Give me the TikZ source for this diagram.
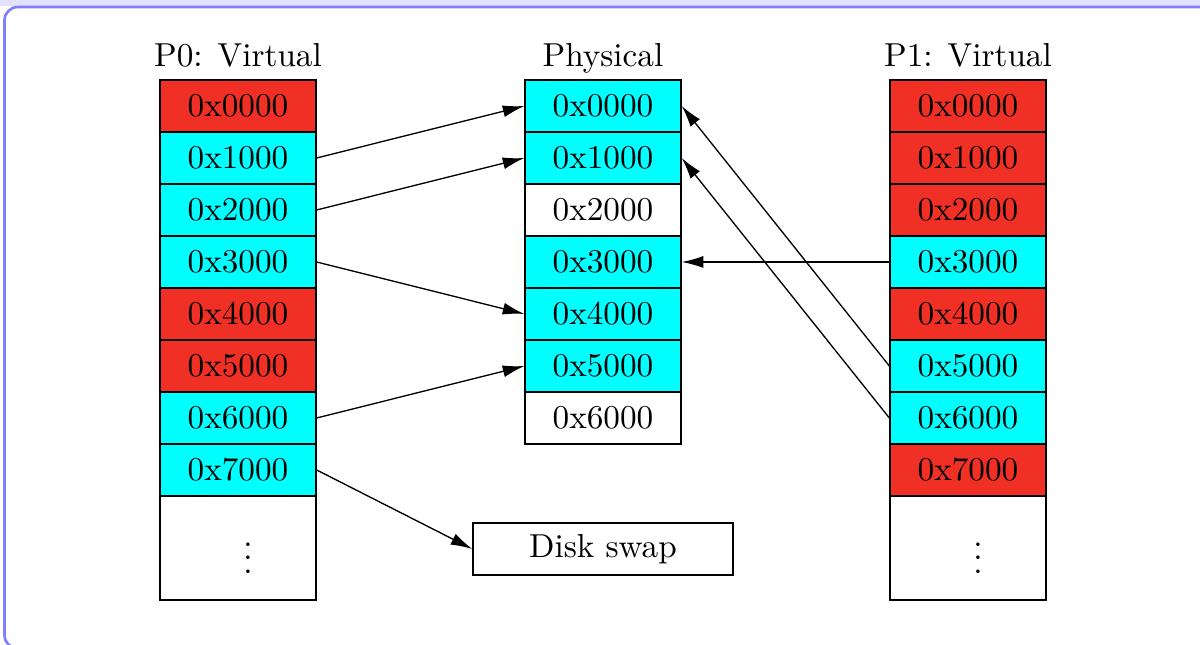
\documentclass[tikz,border=0pt]{standalone}
\usepackage{amsmath,amssymb}
\usepackage{xcolor}
\usepackage{tikz}
\usetikzlibrary{arrows.meta,positioning,calc}
\definecolor{pagered}{RGB}{240,48,36}
\definecolor{pagecyan}{RGB}{0,255,255}
\definecolor{framebl}{RGB}{128,128,255}
\definecolor{titlebl}{RGB}{226,226,255}

\begin{document}
\begin{tikzpicture}[x=0.55cm,y=0.55cm,
  c/.style={draw, minimum width=1.65cm, minimum height=0.55cm, inner sep=0pt},
  ok/.style={c, fill=pagecyan},
  bad/.style={c, fill=pagered},
  m/.style={-{Latex[length=6.5pt,width=3.6pt]}}]
\useasboundingbox (0,0) rectangle (23.077,-12.385);
\begin{scope}
\clip (0,0) rectangle (23.077,-12.385);
\fill[titlebl] (0,0) rectangle (23.077,-0.12);
\draw[framebl, line width=0.8pt, rounded corners=4pt] (0.087,-0.135) rectangle (23.4,-12.47);
\end{scope}
% page tables and physical memory
\node[anchor=base] (Atitle) at (4.577,-1.27) {P0: Virtual};
\node[anchor=base] (Mtitle) at (11.596,-1.27) {Physical};
\node[anchor=base] (Btitle) at (18.615,-1.27) {P1: Virtual};
\foreach \s [count=\i from 0] in {bad,ok,ok,ok,bad,bad,ok,ok}
  \node[\s] (A\i) at (4.577,-2.038-\i) {0x\i000};
\foreach \s [count=\i from 0] in {ok,ok,c,ok,ok,ok,c}
  \node[\s] (M\i) at (11.596,-2.038-\i) {0x\i000};
\foreach \s [count=\i from 0] in {bad,bad,bad,ok,bad,ok,ok,bad}
  \node[\s] (B\i) at (18.615,-2.038-\i) {0x\i000};
\node[c, minimum height=1.1cm] (Arest) at (4.577,-10.538) {};
\node[c, minimum height=1.1cm] (Brest) at (18.615,-10.538) {};
\node (Adots) at (4.77,-10.538) {$\vdots$};
\node (Bdots) at (18.808,-10.538) {$\vdots$};
\node[draw, minimum width=2.75cm, minimum height=0.55cm] (D) at (11.596,-10.558) {Disk swap};
% mappings
\draw[m] (A1.east) -- (M0.west);
\draw[m] (A2.east) -- (M1.west);
\draw[m] (A3.east) -- (M4.west);
\draw[m] (A6.east) -- (M5.west);
\draw[m] (A7.east) -- (D.west);
\draw[m] (B3.west) -- (M3.east);
\draw[m] (B5.west) -- (M0.east);
\draw[m] (B6.west) -- (M1.east);
\end{tikzpicture}
\end{document}
